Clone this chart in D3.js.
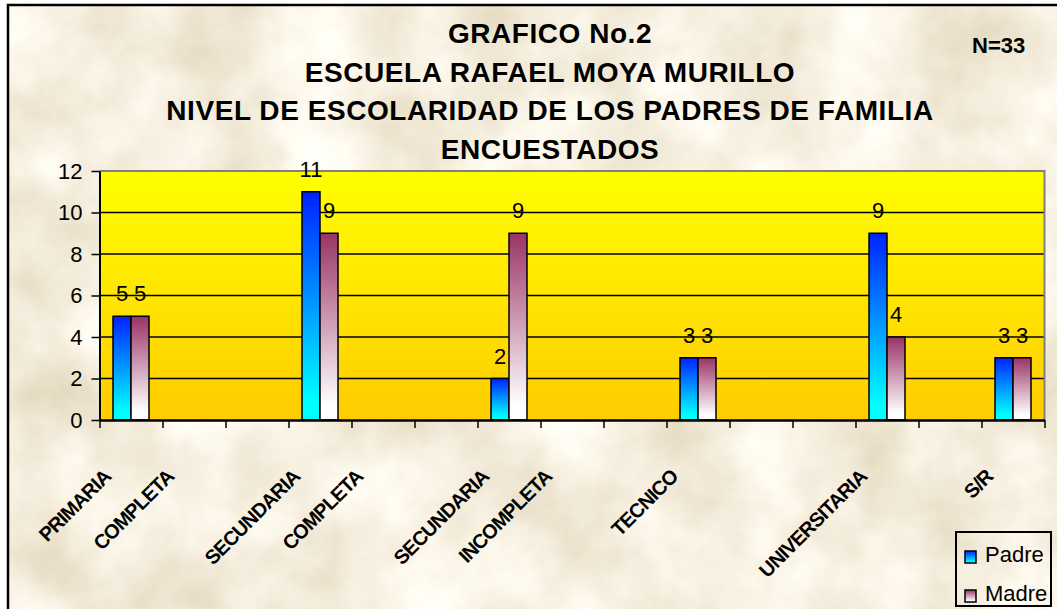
<!DOCTYPE html>
<html>
<head>
<meta charset="utf-8">
<script src="https://cdn.jsdelivr.net/npm/d3@7"></script>
<style>
  body { margin: 0; background: #fff; }
  svg { display: block; }
  text { font-family: "Liberation Sans", Arial, sans-serif; fill: #000; }
</style>
</head>
<body>
<div id="chart"></div>
<script>
const categories = ["PRIMARIA", "COMPLETA", "", "SECUNDARIA", "COMPLETA", "", "SECUNDARIA", "INCOMPLETA", "", "TECNICO", "", "", "UNIVERSITARIA", "", "S/R"];
const padre = [5, null, null, 11, null, null, 2, null, null, 3, null, null, 9, null, 3];
const madre = [5, null, null, 9, null, null, 9, null, null, 3, null, null, 4, null, 3];
const seriesNames = ["Padre", "Madre"];
const yTicks = [0, 2, 4, 6, 8, 10, 12];
const titleLines = ["GRAFICO No.2", "ESCUELA RAFAEL MOYA MURILLO", "NIVEL DE ESCOLARIDAD DE LOS PADRES DE FAMILIA", "ENCUESTADOS"];
const note = "N=33";

const width = 1057;
const height = 609;
const plot = { left: 99.5, right: 1044.5, top: 171, bottom: 420 };

const svg = d3.select("#chart")
  .append("svg")
  .attr("width", width)
  .attr("height", height);

const defs = svg.append("defs");

// parchment texture for the chart background
const parch = defs.append("filter")
  .attr("id", "parchment")
  .attr("filterUnits", "userSpaceOnUse")
  .attr("x", 8).attr("y", 5).attr("width", width).attr("height", height);
parch.append("feTurbulence")
  .attr("type", "fractalNoise")
  .attr("baseFrequency", "0.011")
  .attr("numOctaves", 6)
  .attr("seed", 4);
parch.append("feColorMatrix")
  .attr("type", "matrix")
  .attr("values", "0.38 0 0 0 0.735  0.45 0 0 0 0.645  0.6 0 0 0 0.45  0 0 0 0 1");

function vGrad(id, stops) {
  const g = defs.append("linearGradient")
    .attr("id", id)
    .attr("x1", 0).attr("y1", 0).attr("x2", 0).attr("y2", 1);
  stops.forEach(s => g.append("stop").attr("offset", s[0]).attr("stop-color", s[1]));
}
vGrad("plotBg", [[0, "#FFFF00"], [1, "#FFCC00"]]);
vGrad("grad-Padre", [[0, "#0022FF"], [0.92, "#00FFFF"]]);
vGrad("grad-Madre", [[0, "#993366"], [0.92, "#FFFFFF"]]);

svg.append("rect")
  .attr("x", 8).attr("y", 5)
  .attr("width", width).attr("height", height)
  .attr("fill", "#EBDCB7")
  .attr("filter", "url(#parchment)");
svg.append("rect")
  .attr("x", 8).attr("y", 5)
  .attr("width", width).attr("height", height)
  .attr("fill", "none")
  .attr("stroke", "#000")
  .attr("stroke-width", 2.5);

// scales
const x = d3.scaleBand()
  .domain(d3.range(categories.length))
  .range([plot.left, plot.right]);
const xSeries = d3.scaleBand()
  .domain(seriesNames)
  .range([0, x.bandwidth()])
  .paddingOuter(0.75);
const xEdges = d3.scaleLinear()
  .domain([0, categories.length])
  .range([plot.left, plot.right]);
const y = d3.scaleLinear()
  .domain([0, 12])
  .range([plot.bottom, plot.top]);

// plot area
svg.append("rect")
  .attr("x", plot.left).attr("y", plot.top)
  .attr("width", plot.right - plot.left)
  .attr("height", plot.bottom - plot.top)
  .attr("fill", "url(#plotBg)");

svg.append("g")
  .selectAll("line")
  .data(yTicks.filter(t => t > 0 && t < 12))
  .join("line")
  .attr("x1", plot.left).attr("x2", plot.right)
  .attr("y1", d => y(d)).attr("y2", d => y(d))
  .attr("stroke", "#000")
  .attr("stroke-width", 1.5);

svg.append("path")
  .attr("d", `M${plot.left},${y(12)}H${plot.right}V${plot.bottom}`)
  .attr("fill", "none")
  .attr("stroke", "#808080")
  .attr("stroke-width", 2);

// bars
const rows = categories.map((c, i) => ({ i, Padre: padre[i], Madre: madre[i] }))
  .filter(r => r.Padre != null || r.Madre != null);

const barData = [];
rows.forEach(r => seriesNames.forEach(s => {
  if (r[s] != null) barData.push({ i: r.i, series: s, value: r[s] });
}));

svg.append("g")
  .selectAll("rect")
  .data(barData)
  .join("rect")
  .attr("x", d => x(d.i) + xSeries(d.series))
  .attr("width", xSeries.bandwidth())
  .attr("y", d => y(d.value))
  .attr("height", d => y(0) - y(d.value))
  .attr("fill", d => `url(#grad-${d.series})`)
  .attr("stroke", "#000")
  .attr("stroke-width", 1.5);

svg.append("g")
  .selectAll("text")
  .data(barData)
  .join("text")
  .attr("x", d => x(d.i) + xSeries(d.series) + xSeries.bandwidth() / 2)
  .attr("y", d => y(d.value) - 15)
  .attr("text-anchor", "middle")
  .attr("font-size", "22px")
  .text(d => d.value);

// axes
const yAxis = svg.append("g")
  .attr("transform", `translate(${plot.left},0)`)
  .call(d3.axisLeft(y).tickValues(yTicks).tickSize(8).tickSizeOuter(0).tickPadding(9));
yAxis.select(".domain").attr("stroke", "#000").attr("stroke-width", 2);
yAxis.selectAll(".tick line").attr("stroke", "#000").attr("stroke-width", 1.5);
yAxis.selectAll(".tick text")
  .attr("font-size", "22px")
  .attr("font-family", "Liberation Sans, Arial, sans-serif")
  .attr("fill", "#000");

const xAxis = svg.append("g")
  .attr("transform", `translate(0,${plot.bottom})`)
  .call(d3.axisBottom(xEdges).tickValues(d3.range(categories.length + 1)).tickFormat("").tickSize(8).tickSizeOuter(0));
xAxis.select(".domain").attr("stroke", "#000").attr("stroke-width", 2.5);
xAxis.selectAll(".tick line").attr("stroke", "#000").attr("stroke-width", 1.5);

svg.append("g")
  .selectAll("text")
  .data(categories)
  .join("text")
  .attr("transform", (d, i) => `translate(${x(i) + x.bandwidth() / 2 - 19},478) rotate(-45)`)
  .attr("text-anchor", "end")
  .attr("font-size", "20px")
  .attr("font-weight", "bold")
  .attr("letter-spacing", "-0.9px")
  .text(d => d);

// title
svg.append("g")
  .selectAll("text")
  .data(titleLines)
  .join("text")
  .attr("x", 550)
  .attr("y", (d, i) => 43 + i * 38.5)
  .attr("text-anchor", "middle")
  .attr("font-size", "28px")
  .attr("font-weight", "bold")
  .attr("letter-spacing", "0.55px")
  .text(d => d);

svg.append("text")
  .attr("x", 972).attr("y", 53)
  .attr("font-size", "22px")
  .attr("font-weight", "bold")
  .text(note);

// legend
const legend = svg.append("g").attr("transform", "translate(956,532)");
legend.append("rect")
  .attr("width", 95).attr("height", 74)
  .attr("fill", "none")
  .attr("stroke", "#000")
  .attr("stroke-width", 2);
const item = legend.selectAll("g.item")
  .data(seriesNames)
  .join("g")
  .attr("class", "item")
  .attr("transform", (d, i) => `translate(9,${19 + i * 39})`);
item.append("rect")
  .attr("width", 11).attr("height", 12)
  .attr("fill", d => `url(#grad-${d})`)
  .attr("stroke", "#000")
  .attr("stroke-width", 1.5);
item.append("text")
  .attr("x", 20).attr("y", 11)
  .attr("font-size", "22px")
  .text(d => d);
</script>
</body>
</html>
